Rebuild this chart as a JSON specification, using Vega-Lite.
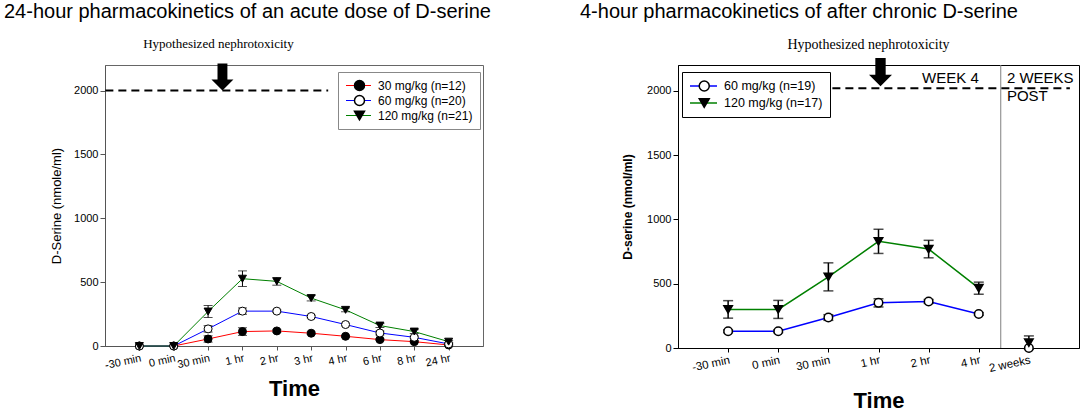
{
  "$schema": "https://vega.github.io/schema/vega-lite/v6.json",
  "padding": {"left": 3, "top": 1, "right": 0, "bottom": 0},
  "spacing": 87,
  "resolve": {
    "scale": {"color": "independent", "fill": "independent", "shape": "independent"},
    "legend": {"color": "independent", "fill": "independent", "shape": "independent"}
  },
  "config": {
    "font": "Liberation Sans",
    "axis": {"labelFont": "Liberation Sans", "labelFontSize": 11, "labelColor": "black", "titleFont": "Liberation Sans", "titleColor": "black", "grid": false, "tickSize": 4, "labelPadding": 2},
    "title": {"font": "Liberation Sans", "fontSize": 20, "fontWeight": "normal", "color": "black"},
    "legend": {"labelFont": "Liberation Sans", "labelFontSize": 12, "labelColor": "black"}
  },
  "hconcat": [
    {
      "title": {"text": "24-hour pharmacokinetics of an acute dose of D-serine", "anchor": "start", "frame": "group", "dx": -101, "offset": 16},
      "width": 378,
      "height": 281,
      "view": {"stroke": "#666"},
      "data": {"values": [
        {"time": "-30 min", "dose": "30 mg/kg (n=12)", "value": 0, "err": 0},
        {"time": "0 min", "dose": "30 mg/kg (n=12)", "value": 0, "err": 0},
        {"time": "30 min", "dose": "30 mg/kg (n=12)", "value": 55, "err": 25},
        {"time": "1 hr", "dose": "30 mg/kg (n=12)", "value": 113, "err": 30},
        {"time": "2 hr", "dose": "30 mg/kg (n=12)", "value": 118, "err": 12},
        {"time": "3 hr", "dose": "30 mg/kg (n=12)", "value": 100, "err": 10},
        {"time": "4 hr", "dose": "30 mg/kg (n=12)", "value": 76, "err": 8},
        {"time": "6 hr", "dose": "30 mg/kg (n=12)", "value": 50, "err": 8},
        {"time": "8 hr", "dose": "30 mg/kg (n=12)", "value": 34, "err": 8},
        {"time": "24 hr", "dose": "30 mg/kg (n=12)", "value": 8, "err": 5},
        {"time": "-30 min", "dose": "60 mg/kg (n=20)", "value": 0, "err": 0},
        {"time": "0 min", "dose": "60 mg/kg (n=20)", "value": 0, "err": 0},
        {"time": "30 min", "dose": "60 mg/kg (n=20)", "value": 134, "err": 25},
        {"time": "1 hr", "dose": "60 mg/kg (n=20)", "value": 273, "err": 25},
        {"time": "2 hr", "dose": "60 mg/kg (n=20)", "value": 273, "err": 10},
        {"time": "3 hr", "dose": "60 mg/kg (n=20)", "value": 231, "err": 10},
        {"time": "4 hr", "dose": "60 mg/kg (n=20)", "value": 168, "err": 10},
        {"time": "6 hr", "dose": "60 mg/kg (n=20)", "value": 102, "err": 15},
        {"time": "8 hr", "dose": "60 mg/kg (n=20)", "value": 68, "err": 10},
        {"time": "24 hr", "dose": "60 mg/kg (n=20)", "value": 16, "err": 8},
        {"time": "-30 min", "dose": "120 mg/kg (n=21)", "value": 0, "err": 0},
        {"time": "0 min", "dose": "120 mg/kg (n=21)", "value": 0, "err": 0},
        {"time": "30 min", "dose": "120 mg/kg (n=21)", "value": 270, "err": 47},
        {"time": "1 hr", "dose": "120 mg/kg (n=21)", "value": 527, "err": 61},
        {"time": "2 hr", "dose": "120 mg/kg (n=21)", "value": 506, "err": 30},
        {"time": "3 hr", "dose": "120 mg/kg (n=21)", "value": 375, "err": 22},
        {"time": "4 hr", "dose": "120 mg/kg (n=21)", "value": 283, "err": 15},
        {"time": "6 hr", "dose": "120 mg/kg (n=21)", "value": 160, "err": 15},
        {"time": "8 hr", "dose": "120 mg/kg (n=21)", "value": 113, "err": 15},
        {"time": "24 hr", "dose": "120 mg/kg (n=21)", "value": 34, "err": 10}
      ]},
      "layer": [
        {
          "mark": {"type": "line", "strokeWidth": 1},
          "encoding": {
            "x": {"field": "time", "type": "ordinal", "title": "Time",
              "scale": {"type": "point", "padding": 1, "domain": ["-30 min", "0 min", "30 min", "1 hr", "2 hr", "3 hr", "4 hr", "6 hr", "8 hr", "24 hr"]},
              "axis": {"titleFontSize": 22, "titleFontWeight": "bold", "labelAngle": -12, "titlePadding": 8, "domainColor": "#555", "tickColor": "#555"}},
            "y": {"field": "value", "type": "quantitative", "title": "D-Serine (nmole/ml)",
              "scale": {"domain": [0, 2200], "nice": false},
              "axis": {"values": [0, 500, 1000, 1500, 2000], "format": "d", "titleFontSize": 13, "titleFontWeight": "normal", "titlePadding": 10, "domainColor": "#555", "tickColor": "#555", "tickSize": 5}},
            "color": {"field": "dose", "type": "nominal",
              "scale": {"domain": ["30 mg/kg (n=12)", "60 mg/kg (n=20)", "120 mg/kg (n=21)"], "range": ["#ff0000", "#0000ff", "#008000"]},
              "legend": {"orient": "none", "legendX": 233, "legendY": 7, "title": null, "symbolType": "stroke", "symbolSize": 625, "symbolStrokeWidth": 1.2, "padding": 7, "strokeColor": "#888", "fillColor": "white", "labelOffset": 6, "rowPadding": 2, "clipHeight": 13}}
          }
        },
        {
          "transform": [{"filter": "datum.err > 0"}],
          "mark": {"type": "errorbar", "color": "black", "thickness": 1, "ticks": {"size": 9}},
          "encoding": {
            "x": {"field": "time", "type": "ordinal", "title": "Time"},
            "y": {"field": "value", "type": "quantitative", "title": "D-Serine (nmole/ml)"},
            "yError": {"field": "err"}
          }
        },
        {
          "mark": {"type": "point", "filled": true, "stroke": "black", "strokeWidth": 1, "opacity": 1, "size": 64},
          "encoding": {
            "x": {"field": "time", "type": "ordinal", "title": "Time"},
            "y": {"field": "value", "type": "quantitative", "title": "D-Serine (nmole/ml)"},
            "shape": {"field": "dose", "type": "nominal", "sort": null, "scale": {"range": ["circle", "circle", "triangle-down"]},
              "legend": {"orient": "none", "legendX": 233, "legendY": 7, "title": null, "labelColor": "transparent", "symbolOffset": 8.5, "padding": 7, "labelOffset": 6, "rowPadding": 2, "clipHeight": 13,
                "encode": {"symbols": {"update": {"stroke": {"value": "black"}, "strokeWidth": {"value": 1}}}}}},
            "fill": {"field": "dose", "type": "nominal", "sort": null, "scale": {"range": ["black", "white", "black"]},
              "legend": {"orient": "none", "legendX": 233, "legendY": 7, "title": null, "labelColor": "transparent", "symbolOffset": 8.5, "padding": 7, "labelOffset": 6, "rowPadding": 2, "clipHeight": 13,
                "encode": {"symbols": {"update": {"stroke": {"value": "black"}, "strokeWidth": {"value": 1}}}}}}
          }
        },
        {
          "data": {"values": [{}]},
          "mark": {"type": "rule", "color": "black", "strokeWidth": 2, "strokeDash": [8, 5], "xOffset": -34, "x2Offset": 17},
          "encoding": {
            "x": {"datum": "-30 min", "type": "ordinal"},
            "x2": {"datum": "3 hr"},
            "y": {"datum": 2000, "type": "quantitative"}
          }
        },
        {
          "data": {"values": [{}]},
          "mark": {"type": "point", "shape": "M-0.45,-2.45L0.45,-2.45L0.45,-1L1,-1L0,0L-1,-1L-0.45,-1Z", "size": 484, "filled": true, "color": "black", "opacity": 1, "xOffset": -20},
          "encoding": {
            "x": {"datum": "1 hr", "type": "ordinal"},
            "y": {"datum": 2000, "type": "quantitative"}
          }
        },
        {
          "data": {"values": [{}]},
          "mark": {"type": "text", "text": "Hypothesized nephrotoxicity", "font": "Liberation Serif", "fontSize": 13, "dx": -24, "align": "center", "baseline": "alphabetic", "color": "black"},
          "encoding": {
            "x": {"datum": "1 hr", "type": "ordinal"},
            "y": {"datum": 2330, "type": "quantitative"}
          }
        }
      ]
    },
    {
      "title": {"text": "4-hour pharmacokinetics of after chronic D-serine", "anchor": "start", "frame": "group", "dx": -98, "offset": 16},
      "width": 401,
      "height": 283,
      "view": {"stroke": "black"},
      "data": {"values": [
        {"time": "-30 min", "period": "week 4", "dose": "60 mg/kg (n=19)", "value": 130, "err": 10},
        {"time": "0 min", "period": "week 4", "dose": "60 mg/kg (n=19)", "value": 130, "err": 10},
        {"time": "30 min", "period": "week 4", "dose": "60 mg/kg (n=19)", "value": 237, "err": 22},
        {"time": "1 hr", "period": "week 4", "dose": "60 mg/kg (n=19)", "value": 351, "err": 32},
        {"time": "2 hr", "period": "week 4", "dose": "60 mg/kg (n=19)", "value": 362, "err": 15},
        {"time": "4 hr", "period": "week 4", "dose": "60 mg/kg (n=19)", "value": 265, "err": 10},
        {"time": "2 weeks", "period": "post", "dose": "60 mg/kg (n=19)", "value": 0, "err": 0},
        {"time": "-30 min", "period": "week 4", "dose": "120 mg/kg (n=17)", "value": 300, "err": 68},
        {"time": "0 min", "period": "week 4", "dose": "120 mg/kg (n=17)", "value": 300, "err": 70},
        {"time": "30 min", "period": "week 4", "dose": "120 mg/kg (n=17)", "value": 553, "err": 109},
        {"time": "1 hr", "period": "week 4", "dose": "120 mg/kg (n=17)", "value": 829, "err": 94},
        {"time": "2 hr", "period": "week 4", "dose": "120 mg/kg (n=17)", "value": 769, "err": 68},
        {"time": "4 hr", "period": "week 4", "dose": "120 mg/kg (n=17)", "value": 465, "err": 47},
        {"time": "2 weeks", "period": "post", "dose": "120 mg/kg (n=17)", "value": 42, "err": 52}
      ]},
      "layer": [
        {
          "mark": {"type": "line", "strokeWidth": 1.5},
          "encoding": {
            "x": {"field": "time", "type": "ordinal", "title": "Time",
              "scale": {"type": "point", "padding": 1, "domain": ["-30 min", "0 min", "30 min", "1 hr", "2 hr", "4 hr", "2 weeks"]},
              "axis": {"titleFontSize": 22, "titleFontWeight": "bold", "labelAngle": -12, "titlePadding": 16, "domainColor": "black", "tickColor": "black", "labelFontSize": 11.5}},
            "y": {"field": "value", "type": "quantitative", "title": "D-serine (nmol/ml)",
              "scale": {"domain": [0, 2200], "nice": false},
              "axis": {"values": [0, 500, 1000, 1500, 2000], "format": "d", "titleFontSize": 12, "titleFontWeight": "bold", "titlePadding": 12, "domainColor": "black", "tickColor": "black", "tickSize": 5}},
            "color": {"field": "dose", "type": "nominal",
              "scale": {"domain": ["60 mg/kg (n=19)", "120 mg/kg (n=17)"], "range": ["#0000ff", "#008000"]},
              "legend": {"orient": "none", "legendX": 4, "legendY": 7, "title": null, "symbolType": "stroke", "symbolSize": 729, "symbolStrokeWidth": 1.5, "padding": 7, "strokeColor": "black", "fillColor": "white", "labelOffset": 6, "rowPadding": 3, "clipHeight": 14, "labelFontSize": 12.5}},
            "detail": {"field": "period", "type": "nominal"}
          }
        },
        {
          "transform": [{"filter": "datum.err > 0"}],
          "mark": {"type": "errorbar", "color": "black", "thickness": 1.5, "ticks": {"size": 10}},
          "encoding": {
            "x": {"field": "time", "type": "ordinal", "title": "Time"},
            "y": {"field": "value", "type": "quantitative", "title": "D-serine (nmol/ml)"},
            "yError": {"field": "err"}
          }
        },
        {
          "mark": {"type": "point", "filled": true, "stroke": "black", "strokeWidth": 1.5, "opacity": 1, "size": 72},
          "encoding": {
            "x": {"field": "time", "type": "ordinal", "title": "Time"},
            "y": {"field": "value", "type": "quantitative", "title": "D-serine (nmol/ml)"},
            "shape": {"field": "dose", "type": "nominal", "sort": null, "scale": {"range": ["circle", "triangle-down"]},
              "legend": {"orient": "none", "legendX": 4, "legendY": 7, "title": null, "labelColor": "transparent", "symbolOffset": 9, "padding": 7, "labelOffset": 6, "rowPadding": 3, "clipHeight": 14, "labelFontSize": 12.5,
                "encode": {"symbols": {"update": {"stroke": {"value": "black"}, "strokeWidth": {"value": 1.5}}}}}},
            "fill": {"field": "dose", "type": "nominal", "sort": null, "scale": {"range": ["white", "black"]},
              "legend": {"orient": "none", "legendX": 4, "legendY": 7, "title": null, "labelColor": "transparent", "symbolOffset": 9, "padding": 7, "labelOffset": 6, "rowPadding": 3, "clipHeight": 14, "labelFontSize": 12.5,
                "encode": {"symbols": {"update": {"stroke": {"value": "black"}, "strokeWidth": {"value": 1.5}}}}}}
          }
        },
        {
          "data": {"values": [{}]},
          "mark": {"type": "rule", "color": "#808080", "strokeWidth": 1, "xOffset": 22},
          "encoding": {
            "x": {"datum": "4 hr", "type": "ordinal"}
          }
        },
        {
          "data": {"values": [{}]},
          "mark": {"type": "rule", "color": "black", "strokeWidth": 2, "strokeDash": [8, 5], "xOffset": 4, "x2Offset": 41},
          "encoding": {
            "x": {"datum": "30 min", "type": "ordinal"},
            "x2": {"datum": "2 weeks"},
            "y": {"datum": 2020, "type": "quantitative"}
          }
        },
        {
          "data": {"values": [{}]},
          "mark": {"type": "point", "shape": "M-0.45,-2.45L0.45,-2.45L0.45,-1L1,-1L0,0L-1,-1L-0.45,-1Z", "size": 529, "filled": true, "color": "black", "opacity": 1, "xOffset": 2},
          "encoding": {
            "x": {"datum": "1 hr", "type": "ordinal"},
            "y": {"datum": 2035, "type": "quantitative"}
          }
        },
        {
          "data": {"values": [{}]},
          "mark": {"type": "text", "text": "Hypothesized nephrotoxicity", "font": "Liberation Serif", "fontSize": 14, "dx": -10, "align": "center", "baseline": "alphabetic", "color": "black"},
          "encoding": {
            "x": {"datum": "1 hr", "type": "ordinal"},
            "y": {"datum": 2328, "type": "quantitative"}
          }
        },
        {
          "data": {"values": [
            {"label": "WEEK 4", "at": "4 hr", "level": 2060, "side": "left"},
            {"label": "2 WEEKS", "at": "2 weeks", "level": 2060, "side": "right"},
            {"label": "POST", "at": "2 weeks", "level": 1920, "side": "right"}
          ]},
          "layer": [
            {
              "transform": [{"filter": "datum.side == 'left'"}],
              "mark": {"type": "text", "font": "Liberation Sans", "fontSize": 15, "align": "right", "baseline": "alphabetic", "color": "black"},
              "encoding": {
                "x": {"field": "at", "type": "ordinal"},
                "y": {"field": "level", "type": "quantitative"},
                "text": {"field": "label"}
              }
            },
            {
              "transform": [{"filter": "datum.side == 'right'"}],
              "mark": {"type": "text", "font": "Liberation Sans", "fontSize": 15, "align": "left", "baseline": "alphabetic", "color": "black", "dx": -22},
              "encoding": {
                "x": {"field": "at", "type": "ordinal"},
                "y": {"field": "level", "type": "quantitative"},
                "text": {"field": "label"}
              }
            }
          ]
        }
      ]
    }
  ]
}
